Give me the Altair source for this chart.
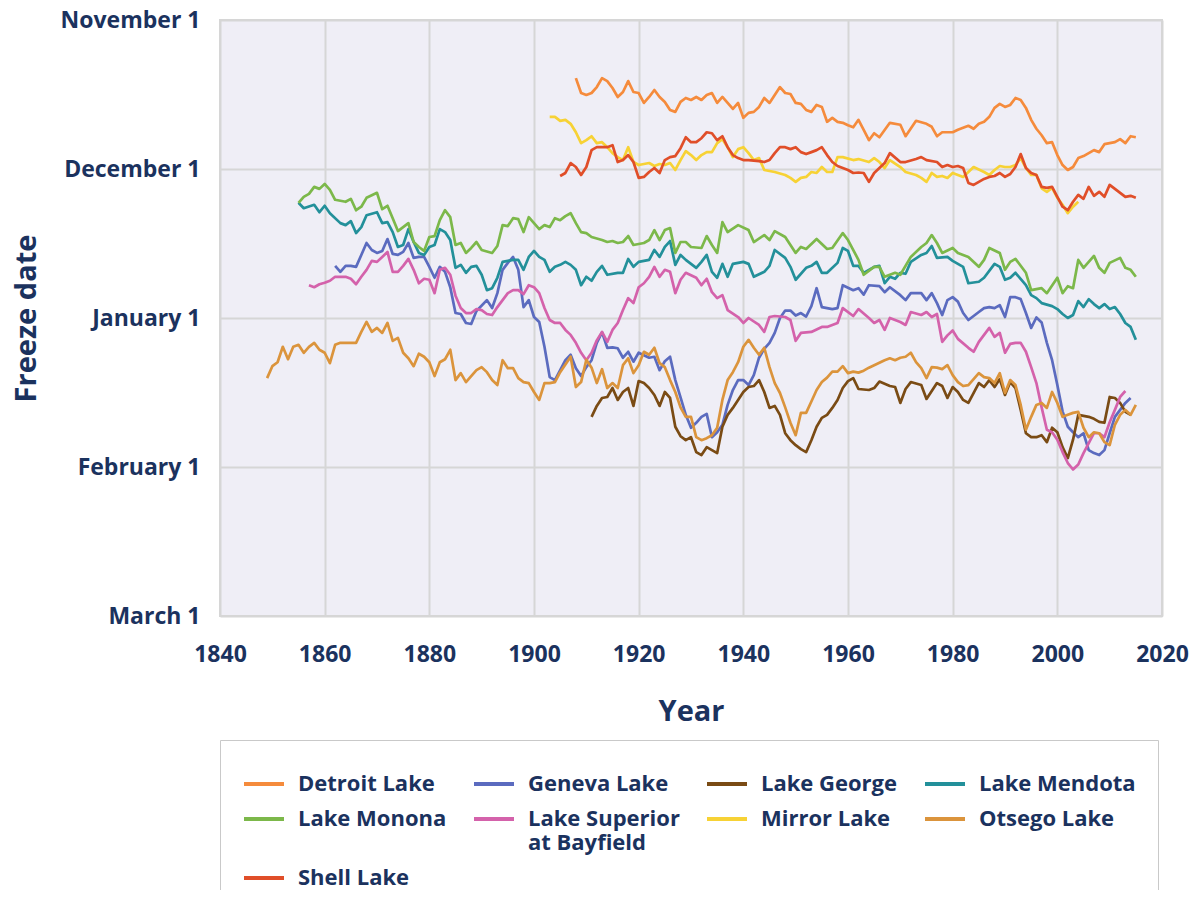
import altair as alt
import pandas as pd

# ---------------- data (freeze date as days after November 1) ----------------
LAKES = ["Detroit Lake", "Geneva Lake", "Lake George", "Lake Mendota", "Lake Monona",
         "Lake Superior at Bayfield", "Mirror Lake", "Otsego Lake", "Shell Lake"]
COLORS = ["#f58b3c", "#5b6bbf", "#7a4b14", "#23909a", "#7cb84a",
          "#d462ab", "#f7d235", "#db943c", "#e04e29"]

DETROIT = [(1908,11.7),(1909,14.7),(1910,15.1),(1911,14.7),(1912,13.5),(1913,11.7),(1914,12.3),(1915,13.7),(1916,15.5),(1917,14.5),(1918,12.3),(1919,14.5),(1920,14.7),(1921,16.7),(1922,15.5),(1923,14.1),(1924,15.5),(1925,16.5),(1926,18.1),(1927,18.5),(1928,16.5),(1929,15.7),(1930,16.1),(1931,15.5),(1932,16.1),(1933,15.1),(1934,14.7),(1935,16.7),(1936,15.5),(1937,16.7),(1938,17.9),(1939,16.7),(1940,19.7),(1941,18.7),(1942,18.5),(1943,17.5),(1944,15.7),(1945,16.7),(1946,15.1),(1947,13.5),(1948,14.7),(1949,14.9),(1950,16.7),(1951,16.9),(1952,18.1),(1953,18.5),(1954,17.1),(1955,17.5),(1956,20.5),(1957,19.7),(1958,20.5),(1959,20.7),(1960,21.2),(1961,21.6),(1962,20.1),(1963,22.1),(1964,24.2),(1965,22.8),(1966,23.6),(1968,20.7),(1970,21.1),(1971,23.4),(1973,20.3),(1975,20.9),(1976,21.5),(1977,23.4),(1978,22.6),(1980,22.6),(1981,22.1),(1983,21.3),(1984,21.9),(1985,20.9),(1986,20.5),(1987,19.5),(1988,17.7),(1989,16.9),(1990,17.5),(1991,17.1),(1992,15.7),(1993,16.1),(1994,17.7),(1995,20.1),(1996,21.9),(1997,23.2),(1998,24.8),(1999,24.6),(2000,27.2),(2001,29.2),(2002,30.2),(2003,29.6),(2004,27.8),(2005,27.4),(2006,26.8),(2007,26.2),(2008,26.6),(2009,25.0),(2011,24.6),(2012,24.0),(2013,24.8),(2014,23.4),(2015,23.6)]

GENEVA = [(1862,49.5),(1863,50.7),(1864,49.5),(1865,49.5),(1866,49.7),(1867,47.3),(1868,44.9),(1869,46.3),(1870,46.9),(1871,46.5),(1872,44.1),(1873,47.1),(1874,47.3),(1875,46.7),(1876,44.9),(1877,47.9),(1878,47.7),(1879,47.7),(1880,49.7),(1881,51.9),(1882,49.7),(1883,50.7),(1884,53.8),(1885,59.0),(1886,59.2),(1887,61.0),(1888,61.2),(1889,58.6),(1891,56.4),(1892,58.0),(1893,55.0),(1894,50.3),(1895,48.9),(1896,47.7),(1897,50.3),(1898,57.8),(1899,56.4),(1900,59.8),(1901,60.8),(1902,65.8),(1903,71.9),(1904,72.5),(1905,70.5),(1906,68.5),(1907,67.4),(1908,70.1),(1909,71.7),(1910,69.9),(1911,68.5),(1912,65.0),(1913,62.9),(1914,66.0),(1915,65.9),(1916,66.1),(1917,68.0),(1918,66.8),(1919,68.8),(1920,67.0),(1921,67.5),(1922,68.0),(1923,67.8),(1924,70.5),(1925,68.7),(1926,67.8),(1927,72.5),(1928,76.0),(1929,79.5),(1930,82.1),(1931,81.1),(1932,79.9),(1933,79.3),(1934,84.0),(1935,83.0),(1936,81.5),(1937,77.5),(1938,74.5),(1939,72.5),(1940,72.5),(1941,73.5),(1942,71.5),(1943,68.0),(1944,66.2),(1945,65.0),(1946,63.0),(1947,60.0),(1948,58.5),(1949,58.5),(1950,59.5),(1951,59.0),(1952,59.7),(1953,57.6),(1954,54.0),(1955,57.8),(1957,58.2),(1958,58.0),(1959,53.4),(1961,54.4),(1962,54.0),(1963,55.3),(1964,53.4),(1966,53.6),(1967,54.8),(1968,53.8),(1970,55.4),(1971,56.4),(1972,55.0),(1974,55.0),(1975,56.4),(1976,55.0),(1977,57.0),(1978,59.4),(1979,56.4),(1980,55.8),(1981,56.7),(1982,59.0),(1983,60.4),(1985,58.8),(1986,58.0),(1987,57.8),(1988,58.0),(1989,57.4),(1990,59.8),(1991,55.8),(1992,55.8),(1993,56.2),(1994,59.0),(1995,62.0),(1996,59.9),(1997,60.9),(1998,65.0),(1999,68.5),(2000,73.5),(2001,78.8),(2002,81.9),(2003,83.0),(2004,84.0),(2005,83.2),(2006,86.6),(2007,87.2),(2008,87.6),(2009,86.6),(2010,83.2),(2011,79.9),(2012,78.5),(2013,77.1),(2014,76.1)]

GEORGE = [(1911,79.9),(1912,77.7),(1913,76.1),(1914,75.9),(1915,74.1),(1916,76.5),(1917,74.9),(1918,74.1),(1919,77.7),(1920,72.7),(1921,73.1),(1922,74.1),(1923,75.5),(1924,77.7),(1925,74.9),(1926,76.1),(1927,81.9),(1928,83.8),(1929,84.6),(1930,84.0),(1931,87.0),(1932,87.6),(1933,86.0),(1934,86.6),(1935,87.2),(1936,81.9),(1937,79.5),(1938,78.1),(1939,76.5),(1940,74.9),(1941,73.9),(1942,73.7),(1943,72.5),(1944,74.9),(1945,78.1),(1946,77.7),(1947,79.5),(1948,83.2),(1949,84.6),(1950,85.6),(1951,86.4),(1952,87.0),(1953,84.6),(1954,81.9),(1955,80.1),(1956,79.5),(1957,78.1),(1958,76.5),(1959,74.1),(1960,72.7),(1961,72.1),(1962,74.3),(1964,74.5),(1965,74.1),(1966,72.8),(1968,73.7),(1969,73.9),(1970,77.1),(1971,74.3),(1972,72.9),(1974,73.5),(1975,76.3),(1977,73.1),(1978,73.7),(1979,76.1),(1980,73.9),(1981,74.9),(1982,76.5),(1983,77.1),(1985,73.1),(1986,73.9),(1987,72.5),(1988,73.9),(1989,72.3),(1990,75.5),(1991,72.9),(1992,74.1),(1993,78.5),(1994,83.2),(1995,84.0),(1996,84.0),(1997,83.6),(1998,85.0),(1999,82.1),(2000,83.0),(2001,86.0),(2002,88.2),(2003,84.5),(2004,79.5),(2006,79.9),(2007,80.3),(2008,80.9),(2009,81.1),(2010,75.9),(2011,76.1),(2012,77.1),(2013,78.9),(2014,79.5)]

MENDOTA = [(1855,36.8),(1856,37.9),(1858,37.2),(1859,38.7),(1860,37.4),(1861,38.9),(1863,40.9),(1864,41.3),(1865,40.5),(1866,42.9),(1867,41.7),(1868,39.3),(1870,38.7),(1871,40.9),(1872,40.7),(1873,42.7),(1874,45.7),(1875,45.3),(1876,42.1),(1877,44.7),(1878,46.9),(1879,47.3),(1880,45.7),(1881,45.3),(1882,42.1),(1883,42.7),(1884,44.3),(1885,49.9),(1886,49.3),(1887,50.9),(1888,49.7),(1889,49.5),(1890,51.3),(1891,54.4),(1892,54.0),(1893,51.9),(1894,48.7),(1895,48.5),(1896,48.3),(1897,48.3),(1898,50.3),(1899,47.7),(1900,46.5),(1901,47.7),(1902,48.3),(1903,50.7),(1904,49.7),(1905,49.3),(1906,48.7),(1907,49.3),(1908,50.3),(1909,53.4),(1910,51.7),(1911,52.5),(1912,50.7),(1913,49.5),(1914,51.3),(1916,50.9),(1917,50.9),(1918,48.1),(1919,49.7),(1920,48.7),(1922,48.3),(1923,46.3),(1924,47.7),(1925,45.7),(1926,44.5),(1927,49.3),(1928,47.3),(1929,48.3),(1931,49.9),(1932,48.7),(1933,47.3),(1934,50.7),(1935,51.9),(1936,49.1),(1937,51.7),(1938,49.1),(1940,48.7),(1941,49.1),(1942,51.7),(1944,50.7),(1945,49.5),(1946,46.3),(1948,47.9),(1949,49.7),(1950,52.3),(1952,49.9),(1953,49.5),(1954,48.7),(1955,50.9),(1956,50.9),(1958,48.9),(1959,45.9),(1960,46.5),(1961,49.5),(1962,49.5),(1963,50.9),(1965,49.7),(1966,49.5),(1967,53.0),(1968,51.7),(1969,52.1),(1970,50.9),(1971,51.1),(1972,48.7),(1974,47.3),(1975,46.9),(1976,45.5),(1977,47.9),(1979,47.7),(1980,48.5),(1982,49.7),(1983,53.0),(1985,52.7),(1986,51.9),(1988,49.1),(1989,49.7),(1990,52.3),(1991,51.9),(1992,50.9),(1994,53.4),(1995,55.4),(1996,56.0),(1997,57.0),(1999,57.6),(2000,58.2),(2001,59.2),(2002,60.0),(2003,59.4),(2004,56.6),(2005,57.8),(2006,56.2),(2007,57.2),(2008,58.0),(2009,57.2),(2010,58.2),(2011,57.8),(2012,59.2),(2013,61.0),(2014,61.8),(2015,64.4)]

MONONA = [(1855,36.8),(1856,35.6),(1857,35.0),(1858,33.6),(1859,34.0),(1860,33.0),(1861,34.2),(1862,36.2),(1864,36.6),(1865,36.0),(1866,38.3),(1867,37.6),(1868,35.8),(1870,34.8),(1871,38.1),(1872,37.4),(1873,39.9),(1874,42.5),(1875,41.7),(1876,40.9),(1877,44.7),(1878,45.7),(1879,46.5),(1880,43.7),(1881,43.5),(1882,40.3),(1883,38.3),(1884,39.7),(1885,45.3),(1886,44.9),(1887,46.9),(1888,45.9),(1889,44.7),(1890,46.3),(1892,46.9),(1893,45.5),(1894,41.3),(1895,41.5),(1896,39.9),(1897,40.1),(1898,42.7),(1899,39.7),(1900,40.9),(1901,42.1),(1902,41.3),(1903,41.7),(1904,39.9),(1905,40.3),(1906,39.5),(1907,38.9),(1908,40.9),(1909,42.7),(1910,42.9),(1911,43.7),(1913,44.3),(1914,44.7),(1915,44.5),(1916,44.9),(1917,44.7),(1918,43.5),(1919,45.3),(1921,44.9),(1922,44.3),(1923,42.3),(1924,44.3),(1925,42.3),(1926,41.9),(1927,46.9),(1928,44.7),(1929,44.7),(1930,45.7),(1932,45.9),(1933,43.5),(1934,45.3),(1935,46.9),(1936,40.7),(1937,42.7),(1939,41.3),(1941,42.3),(1942,44.7),(1944,43.3),(1945,44.3),(1946,42.5),(1948,43.7),(1950,46.9),(1951,45.7),(1952,46.1),(1954,44.1),(1956,46.1),(1957,45.9),(1959,42.9),(1960,44.3),(1962,48.3),(1963,51.3),(1965,49.7),(1966,49.7),(1967,51.7),(1969,50.9),(1970,51.3),(1972,47.7),(1974,45.7),(1975,44.9),(1976,43.3),(1977,44.9),(1978,46.9),(1980,45.9),(1981,46.9),(1983,47.7),(1985,49.7),(1986,48.3),(1987,45.9),(1989,46.9),(1990,50.3),(1991,48.7),(1992,48.1),(1994,50.9),(1995,54.4),(1997,54.0),(1998,55.0),(2000,51.9),(2001,55.0),(2002,53.6),(2003,54.0),(2004,48.3),(2005,49.9),(2007,47.5),(2008,49.9),(2009,50.9),(2010,48.9),(2012,47.9),(2013,49.9),(2014,50.3),(2015,51.7)]

SUPERIOR = [(1857,53.4),(1858,53.8),(1859,53.2),(1860,52.9),(1861,52.5),(1862,51.7),(1864,51.7),(1865,52.1),(1866,53.2),(1867,51.7),(1868,50.3),(1869,48.5),(1870,48.7),(1871,47.7),(1872,46.7),(1873,50.7),(1874,50.7),(1875,49.5),(1876,48.1),(1877,50.3),(1878,53.0),(1879,52.1),(1880,52.3),(1881,55.0),(1882,50.3),(1883,49.9),(1884,51.3),(1885,55.5),(1886,58.0),(1887,59.0),(1888,59.0),(1889,58.2),(1890,58.4),(1891,59.2),(1892,59.4),(1893,57.8),(1894,56.4),(1895,55.0),(1896,54.4),(1897,54.4),(1898,55.2),(1899,53.4),(1900,53.8),(1901,55.0),(1902,58.0),(1903,60.4),(1904,61.0),(1905,61.0),(1906,62.4),(1907,63.4),(1908,65.0),(1909,67.0),(1910,68.5),(1911,67.0),(1912,64.5),(1913,62.8),(1914,64.8),(1915,62.4),(1916,61.0),(1917,58.4),(1918,56.0),(1919,57.0),(1920,53.8),(1921,53.0),(1922,51.7),(1923,49.7),(1924,51.7),(1925,50.3),(1926,50.7),(1927,55.0),(1928,52.3),(1929,50.9),(1931,51.9),(1932,53.4),(1933,52.1),(1934,54.8),(1935,56.0),(1936,55.4),(1937,58.4),(1939,59.8),(1940,61.0),(1941,60.0),(1943,61.4),(1944,62.8),(1945,59.8),(1946,59.6),(1948,59.8),(1949,60.4),(1950,64.6),(1951,63.0),(1953,62.8),(1955,61.8),(1956,61.8),(1958,61.0),(1959,58.0),(1961,59.6),(1962,58.2),(1964,60.0),(1965,61.0),(1966,60.4),(1967,62.4),(1968,60.0),(1970,60.8),(1971,61.4),(1972,58.8),(1974,59.4),(1975,58.8),(1976,59.8),(1977,59.2),(1978,64.8),(1979,63.5),(1980,62.5),(1981,64.2),(1983,66.0),(1984,66.8),(1985,64.8),(1986,63.4),(1987,62.0),(1988,63.8),(1989,63.0),(1990,67.0),(1991,65.2),(1992,65.0),(1993,65.0),(1994,66.8),(1995,69.9),(1996,73.1),(1997,78.0),(1998,82.5),(1999,83.0),(2000,84.5),(2001,87.0),(2002,89.2),(2003,90.5),(2004,89.5),(2005,87.2),(2006,85.2),(2007,83.2),(2008,83.2),(2009,84.0),(2010,81.0),(2011,78.5),(2012,75.9),(2013,74.7)]

MIRROR = [(1903,19.5),(1904,19.5),(1905,20.3),(1906,20.1),(1907,20.9),(1908,22.6),(1909,24.8),(1910,24.2),(1911,23.4),(1912,24.8),(1913,24.6),(1914,25.6),(1915,26.8),(1916,27.6),(1917,28.2),(1918,25.6),(1919,28.6),(1920,29.2),(1922,28.8),(1923,29.4),(1924,29.0),(1925,29.2),(1926,28.8),(1927,30.2),(1928,28.2),(1929,26.4),(1930,27.2),(1931,28.2),(1932,27.2),(1933,26.6),(1934,26.6),(1935,24.8),(1936,24.0),(1937,25.6),(1938,27.6),(1939,26.0),(1940,25.6),(1941,26.8),(1942,28.2),(1943,27.8),(1944,30.2),(1945,30.4),(1946,30.6),(1948,31.2),(1949,31.8),(1950,32.6),(1951,31.8),(1952,31.6),(1953,30.6),(1954,30.8),(1955,29.6),(1956,30.6),(1957,30.6),(1958,27.6),(1959,27.6),(1961,28.2),(1962,28.0),(1964,28.6),(1965,27.8),(1966,28.6),(1967,29.8),(1968,28.2),(1970,29.6),(1971,30.6),(1973,31.2),(1974,31.8),(1975,32.6),(1976,30.8),(1977,31.6),(1978,31.4),(1979,31.8),(1980,30.8),(1982,31.6),(1983,30.6),(1984,29.6),(1986,30.6),(1987,31.2),(1988,30.2),(1989,29.4),(1990,29.6),(1991,29.6),(1992,29.2),(1993,27.8),(1994,29.8),(1995,31.2),(1996,31.2),(1997,33.9),(1998,34.6),(1999,33.8),(2000,35.8),(2001,37.2),(2002,38.9),(2003,37.6),(2004,36.6)]

OTSEGO = [(1849,72.1),(1850,69.7),(1851,68.9),(1852,65.8),(1853,68.3),(1854,65.8),(1855,65.4),(1856,67.0),(1857,65.8),(1858,65.0),(1859,66.4),(1860,67.0),(1861,69.1),(1862,65.4),(1863,65.0),(1864,65.0),(1866,65.0),(1867,62.8),(1868,60.8),(1869,62.8),(1870,62.0),(1871,63.0),(1872,61.0),(1873,64.6),(1874,64.0),(1875,67.0),(1876,68.1),(1877,69.7),(1878,67.2),(1879,67.8),(1880,68.9),(1881,71.7),(1882,68.9),(1883,68.3),(1884,66.4),(1885,72.5),(1886,71.1),(1887,72.9),(1888,71.7),(1889,70.5),(1890,69.9),(1891,70.9),(1892,72.5),(1893,73.5),(1894,68.5),(1895,70.1),(1896,70.1),(1897,72.1),(1898,72.9),(1899,73.1),(1900,74.9),(1901,76.5),(1902,73.1),(1903,73.1),(1904,72.9),(1905,70.9),(1907,67.8),(1908,73.9),(1909,72.9),(1910,68.4),(1911,70.0),(1912,73.1),(1913,70.3),(1914,74.1),(1915,73.1),(1916,74.1),(1917,69.5),(1918,68.1),(1919,71.1),(1920,69.5),(1921,66.8),(1922,67.4),(1923,66.0),(1924,69.1),(1925,69.9),(1926,72.5),(1927,74.9),(1928,78.0),(1929,79.9),(1930,79.9),(1931,84.0),(1932,84.6),(1933,84.2),(1934,83.6),(1935,82.1),(1936,76.5),(1937,72.5),(1938,70.9),(1939,68.9),(1940,65.8),(1941,64.4),(1942,66.0),(1943,67.4),(1944,66.0),(1945,69.9),(1946,73.1),(1947,75.1),(1948,78.0),(1949,81.1),(1950,83.6),(1951,79.1),(1952,79.1),(1953,76.8),(1954,74.5),(1955,72.9),(1956,72.0),(1957,70.8),(1958,70.8),(1959,69.7),(1960,71.1),(1961,70.8),(1962,71.0),(1963,70.6),(1964,70.0),(1965,69.5),(1966,69.0),(1967,68.5),(1968,68.1),(1969,68.5),(1970,68.0),(1971,67.8),(1972,67.0),(1973,68.9),(1974,70.1),(1975,72.1),(1976,69.9),(1977,70.0),(1978,70.3),(1979,69.5),(1980,71.5),(1981,72.9),(1982,73.7),(1983,73.5),(1985,71.1),(1986,71.9),(1987,72.1),(1988,73.1),(1989,71.1),(1990,75.1),(1991,72.5),(1992,73.5),(1993,77.5),(1994,82.5),(1995,79.9),(1996,77.5),(1997,77.1),(1998,78.1),(1999,74.9),(2000,77.1),(2001,79.9),(2002,79.5),(2003,79.1),(2004,78.9),(2005,82.1),(2006,84.0),(2007,83.0),(2008,83.2),(2009,85.0),(2010,85.6),(2011,81.5),(2012,79.5),(2013,78.5),(2014,79.5),(2015,77.5)]

SHELL = [(1905,31.4),(1906,30.8),(1907,28.8),(1908,29.6),(1909,31.2),(1910,29.6),(1911,26.2),(1912,25.6),(1913,25.6),(1914,25.6),(1915,25.2),(1916,28.6),(1917,28.2),(1918,27.2),(1919,28.6),(1920,31.8),(1921,31.6),(1922,30.6),(1923,29.8),(1924,30.8),(1925,28.2),(1926,27.6),(1927,27.4),(1928,25.8),(1929,23.6),(1930,24.6),(1931,24.6),(1932,23.8),(1933,22.6),(1934,22.8),(1935,24.2),(1936,23.4),(1937,25.6),(1938,27.2),(1939,27.8),(1940,28.2),(1941,28.2),(1943,28.4),(1944,28.6),(1945,28.2),(1946,26.8),(1947,25.6),(1948,25.6),(1949,26.0),(1950,25.6),(1951,26.6),(1952,27.0),(1953,26.6),(1954,26.2),(1955,25.6),(1956,27.2),(1957,28.6),(1958,29.4),(1960,30.2),(1961,30.8),(1962,30.7),(1963,30.8),(1964,32.6),(1965,30.8),(1967,28.8),(1968,26.8),(1970,28.6),(1971,28.6),(1973,28.0),(1974,27.6),(1975,28.2),(1977,28.6),(1978,29.6),(1979,29.2),(1980,29.6),(1981,29.4),(1982,29.8),(1983,32.8),(1984,33.2),(1986,32.0),(1987,31.6),(1988,31.4),(1989,30.8),(1990,31.6),(1991,31.0),(1992,29.6),(1993,27.0),(1994,29.8),(1995,30.8),(1996,31.2),(1997,33.6),(1998,33.8),(1999,33.6),(2000,35.6),(2001,37.6),(2002,38.3),(2003,36.6),(2004,35.2),(2005,36.0),(2006,33.6),(2007,35.4),(2008,34.6),(2009,35.6),(2010,33.2),(2012,34.8),(2013,35.6),(2014,35.4),(2015,35.8)]

SERIES = [DETROIT, GENEVA, GEORGE, MENDOTA, MONONA, SUPERIOR, MIRROR, OTSEGO, SHELL]

YEAR_TICKS = [1840, 1860, 1880, 1900, 1920, 1940, 1960, 1980, 2000, 2020]
DATE_TICKS = [0, 30, 60, 90, 120]
DATE_LABELS = ["November 1", "December 1", "January 1", "February 1", "March 1"]
LEGEND_LINES = {"Lake Superior at Bayfield": ["Lake Superior", "at Bayfield"]}

# ---------------- build table ----------------
rows = []
for lake, series in zip(LAKES, SERIES):
    for yr, d in series:
        rows.append({"lake": lake, "year": yr, "day": d})
df = pd.DataFrame(rows)

date_expr = " : ".join(f"datum.value == {v} ? '{t}'" for v, t in zip(DATE_TICKS, DATE_LABELS)) + " : ''"
legend_expr = " : ".join(
    f"datum.label == '{k}' ? [" + ", ".join(f"'{s}'" for s in v) + "]" for k, v in LEGEND_LINES.items()
) + " : datum.label"

NAVY = "#1b325e"
FONT = "Open Sans"

chart = alt.Chart(df).mark_line(strokeWidth=2.7, strokeJoin="round").encode(
    x=alt.X("year:Q",
            scale=alt.Scale(domain=[1840, 2020], nice=False, zero=False),
            axis=alt.Axis(values=YEAR_TICKS, format="d", title="Year",
                          labelFlush=False, labelBaseline="alphabetic", labelPadding=45,
                          titleX=471, titleY=104, titleBaseline="alphabetic")),
    y=alt.Y("day:Q",
            scale=alt.Scale(domain=[0, 120], reverse=True, nice=False, zero=False),
            axis=alt.Axis(values=DATE_TICKS, labelExpr=date_expr, title="Freeze date",
                          labelPadding=20, titleX=-194, titleY=298,
                          titleBaseline="middle", titleAlign="center", titleAngle=270)),
    color=alt.Color("lake:N",
                    scale=alt.Scale(domain=LAKES, range=COLORS),
                    title=None,
                    legend=alt.Legend(orient="none", legendX=0, legendY=720,
                                      direction="horizontal",
                                      columns=4, columnPadding=19, rowPadding=2,
                                      symbolType="stroke", symbolSize=1600,
                                      symbolStrokeWidth=4, labelOffset=12,
                                      labelFont=FONT, labelFontSize=22,
                                      labelFontWeight="bold", labelColor=NAVY,
                                      labelLimit=400, labelExpr=legend_expr,
                                      strokeColor="#c9c9c9", fillColor="#ffffff",
                                      padding=22)),
).properties(
    width=942, height=596,
    padding={"left": 212, "top": 12, "right": 30, "bottom": 274},
    autosize=alt.AutoSizeParams(type="none"),
).configure(
    font=FONT,
).configure_view(
    fill="#efeef6", stroke="#d6d6d6", strokeWidth=2,
).configure_axis(
    labelFont=FONT, labelFontSize=23, labelFontWeight="bold", labelColor=NAVY,
    titleFont=FONT, titleFontSize=29, titleFontWeight="bold", titleColor=NAVY,
    grid=True, gridColor="#d6d6d6", gridWidth=2,
    domain=False, ticks=False, tickSize=0,
)

chart.save("out.html", embed_options={"renderer": "svg", "actions": False})
